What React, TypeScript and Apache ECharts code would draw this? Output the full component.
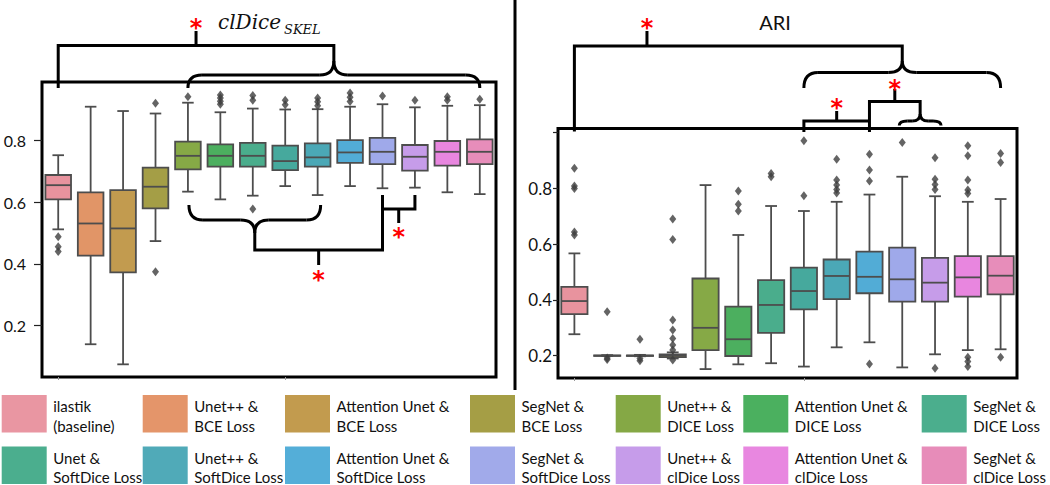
import React, { useEffect, useRef } from "react";
import * as echarts from "echarts";

// ---------- DATA ----------
const categories = [
  "ilastik (baseline)",
  "Unet++ & BCE Loss",
  "Attention Unet & BCE Loss",
  "SegNet & BCE Loss",
  "Unet++ & DICE Loss",
  "Attention Unet & DICE Loss",
  "SegNet & DICE Loss",
  "Unet & SoftDice Loss",
  "Unet++ & SoftDice Loss",
  "Attention Unet & SoftDice Loss",
  "SegNet & SoftDice Loss",
  "Unet++ & clDice Loss",
  "Attention Unet & clDice Loss",
  "SegNet & clDice Loss",
];

const legendLabels = [
  "ilastik\n(baseline)",
  "Unet++ &\nBCE Loss",
  "Attention Unet &\nBCE Loss",
  "SegNet &\nBCE Loss",
  "Unet++ &\nDICE Loss",
  "Attention Unet &\nDICE Loss",
  "SegNet &\nDICE Loss",
  "Unet &\nSoftDice Loss",
  "Unet++ &\nSoftDice Loss",
  "Attention Unet &\nSoftDice Loss",
  "SegNet &\nSoftDice Loss",
  "Unet++ &\nclDice Loss",
  "Attention Unet &\nclDice Loss",
  "SegNet &\nclDice Loss",
];

const boxColors = [
  "#E8939E", "#E19567", "#C29B4F", "#A49E46", "#86A946", "#4CAF5F", "#4AAD8C",
  "#46A99D", "#4BA8B6", "#52ACD6", "#9FA9EA", "#C69CE9", "#E886DF", "#E78DBA",
];
const legendSwatchColors = [
  "#E996A2", "#E4956A", "#C29B4E", "#A59E45", "#85A845", "#4BB05F", "#4BAE8D",
  "#4BAE8E", "#50AAB8", "#54AED8", "#A1AAEA", "#C69CEA", "#E887E0", "#E78CB9",
];

const clDiceTitle = "clDice";
const clDiceSub = "SKEL";
const ariTitle = "ARI";

const clDiceTicks = [0.2, 0.4, 0.6, 0.8];
const ariTickLabels = [0.2, 0.4, 0.6, 0.8];
const ariTickMarks = [0.2, 0.4, 0.6, 0.8, 1.0];

// [lower whisker, Q1, median, Q3, upper whisker]
const clDiceStats = [
  [0.512, 0.609, 0.655, 0.688, 0.752],
  [0.14, 0.427, 0.531, 0.632, 0.909],
  [0.075, 0.373, 0.515, 0.639, 0.895],
  [0.474, 0.58, 0.65, 0.712, 0.887],
  [0.634, 0.706, 0.75, 0.796, 0.922],
  [0.609, 0.715, 0.75, 0.787, 0.891],
  [0.621, 0.715, 0.75, 0.792, 0.903],
  [0.652, 0.704, 0.733, 0.783, 0.9],
  [0.623, 0.715, 0.745, 0.79, 0.901],
  [0.652, 0.727, 0.761, 0.801, 0.909],
  [0.645, 0.723, 0.763, 0.808, 0.917],
  [0.647, 0.702, 0.747, 0.785, 0.907],
  [0.632, 0.718, 0.763, 0.798, 0.912],
  [0.626, 0.723, 0.763, 0.803, 0.914],
];
const clDiceOutliers = [
  [0, 0.488], [0, 0.456], [0, 0.44],
  [3, 0.92], [3, 0.375],
  [4, 0.941],
  [5, 0.947], [5, 0.937], [5, 0.927], [5, 0.917],
  [6, 0.945], [6, 0.93], [6, 0.578],
  [7, 0.93], [7, 0.915],
  [8, 0.937], [8, 0.925], [8, 0.912],
  [9, 0.953], [9, 0.94], [9, 0.926],
  [10, 0.944],
  [11, 0.93],
  [12, 0.941], [12, 0.93],
  [13, 0.933],
];

const ariStats = [
  [0.277, 0.349, 0.396, 0.447, 0.567],
  [0.199, 0.2, 0.2, 0.201, 0.202],
  [0.198, 0.199, 0.2, 0.201, 0.203],
  [0.19, 0.195, 0.2, 0.205, 0.212],
  [0.152, 0.22, 0.3, 0.477, 0.812],
  [0.169, 0.199, 0.259, 0.376, 0.633],
  [0.173, 0.282, 0.382, 0.471, 0.737],
  [0.161, 0.366, 0.432, 0.516, 0.719],
  [0.23, 0.403, 0.486, 0.545, 0.752],
  [0.248, 0.424, 0.483, 0.573, 0.778],
  [0.158, 0.394, 0.474, 0.588, 0.842],
  [0.205, 0.394, 0.462, 0.551, 0.772],
  [0.22, 0.412, 0.481, 0.557, 0.752],
  [0.223, 0.42, 0.487, 0.557, 0.762],
];
const ariOutliers = [
  [0, 0.872], [0, 0.809], [0, 0.8], [0, 0.644], [0, 0.633],
  [1, 0.358], [1, 0.192], [1, 0.186],
  [2, 0.259], [2, 0.19], [2, 0.182],
  [3, 0.69], [3, 0.617], [3, 0.328], [3, 0.292], [3, 0.262], [3, 0.238], [3, 0.22], [3, 0.185],
  [5, 0.791], [5, 0.743], [5, 0.719],
  [6, 0.854], [6, 0.842],
  [7, 0.971], [7, 0.774],
  [8, 0.905], [8, 0.83], [8, 0.812], [8, 0.796], [8, 0.784],
  [9, 0.923], [9, 0.866], [9, 0.827], [9, 0.17],
  [10, 0.965],
  [11, 0.91], [11, 0.833], [11, 0.814], [11, 0.796], [11, 0.155],
  [12, 0.953], [12, 0.917], [12, 0.83], [12, 0.794], [12, 0.782], [12, 0.194], [12, 0.179], [12, 0.161],
  [13, 0.925], [13, 0.893], [13, 0.194],
];

// ---------- LAYOUT ----------
const W = 1050;
const H = 485;
const EDGE = "#4d4d4d";
const legendColX = [1.7, 142.7, 285, 470, 615.7, 743.3, 921.7];
const legendRowY = [395, 446.5];

function boxSeries(stats: number[][], gi: number, frac: number) {
  return {
    type: "custom",
    xAxisIndex: gi,
    yAxisIndex: gi,
    data: stats.map((s, i) => [i, ...s]),
    encode: { x: 0, y: [1, 2, 3, 4, 5] },
    renderItem: (_params: any, api: any) => {
      const idx = api.value(0);
      const low = api.coord([idx, api.value(1)]);
      const q1 = api.coord([idx, api.value(2)]);
      const med = api.coord([idx, api.value(3)]);
      const q3 = api.coord([idx, api.value(4)]);
      const high = api.coord([idx, api.value(5)]);
      const band = api.size([1, 0])[0];
      const bw = band * frac;
      const cw = bw * 0.45;
      const cx = low[0];
      const ls = { stroke: EDGE, lineWidth: 1.8 };
      return {
        type: "group",
        children: [
          { type: "line", shape: { x1: cx, y1: high[1], x2: cx, y2: q3[1] }, style: ls },
          { type: "line", shape: { x1: cx, y1: q1[1], x2: cx, y2: low[1] }, style: ls },
          { type: "line", shape: { x1: cx - cw / 2, y1: high[1], x2: cx + cw / 2, y2: high[1] }, style: ls },
          { type: "line", shape: { x1: cx - cw / 2, y1: low[1], x2: cx + cw / 2, y2: low[1] }, style: ls },
          {
            type: "rect",
            shape: { x: cx - bw / 2, y: q3[1], width: bw, height: Math.max(q1[1] - q3[1], 0.5) },
            style: { fill: boxColors[idx], stroke: EDGE, lineWidth: 1.8 },
          },
          { type: "line", shape: { x1: cx - bw / 2, y1: med[1], x2: cx + bw / 2, y2: med[1] }, style: ls },
        ],
      };
    },
    z: 2,
  };
}

function outlierSeries(data: number[][], gi: number) {
  return {
    type: "scatter",
    xAxisIndex: gi,
    yAxisIndex: gi,
    data,
    symbol: "diamond",
    symbolSize: [7, 9],
    itemStyle: { color: "#3d3d3d" },
    z: 3,
  };
}

export default function App() {
  const ref = useRef<HTMLDivElement>(null);
  useEffect(() => {
    const el = ref.current!;
    const chart = echarts.init(el, undefined, { renderer: "svg", width: W, height: H });
    const xAx = (gi: number) => ({
      gridIndex: gi,
      type: "category",
      data: categories,
      axisLabel: { show: false },
      axisLine: { show: false },
      axisTick: { show: true, alignWithLabel: true, length: 3, lineStyle: { color: "#999" } },
      splitLine: { show: false },
    });
    chart.setOption({
      animation: false,
      backgroundColor: "#fff",
      grid: [
        { left: 42, top: 82, width: 454, height: 295, show: true, borderColor: "#000", borderWidth: 3, backgroundColor: "transparent" },
        { left: 558, top: 128.5, width: 459, height: 249.5, show: true, borderColor: "#000", borderWidth: 3, backgroundColor: "transparent" },
      ],
      xAxis: [xAx(0), xAx(1)],
      yAxis: [
        {
          gridIndex: 0,
          type: "value",
          min: 0.034,
          max: 0.989,
          splitLine: { show: false },
          axisLine: { show: false },
          axisTick: { show: true, length: 8, customValues: clDiceTicks, lineStyle: { color: "#222", width: 1.2 } },
          axisLabel: {
            customValues: clDiceTicks,
            formatter: (v: number) => v.toFixed(1),
            margin: 16,
            fontSize: 16,
            fontFamily: "Lato",
            color: "#111",
          },
        },
        {
          gridIndex: 1,
          type: "value",
          min: 0.12,
          max: 1.015,
          splitLine: { show: false },
          axisLine: { show: false },
          axisTick: { show: true, length: 5, customValues: ariTickMarks, lineStyle: { color: "#222", width: 1.2 } },
          axisLabel: {
            customValues: ariTickLabels,
            formatter: (v: number) => v.toFixed(1),
            margin: 6,
            fontSize: 17,
            fontFamily: "Lato",
            color: "#111",
          },
        },
      ],
      series: [
        boxSeries(clDiceStats, 0, 0.79),
        outlierSeries(clDiceOutliers, 0),
        boxSeries(ariStats, 1, 0.8),
        outlierSeries(ariOutliers, 1),
      ],
    });

    const L = (i: number) => (chart.convertToPixel({ gridIndex: 0 } as any, [i, 0.5]) as number[])[0];
    const R = (i: number) => (chart.convertToPixel({ gridIndex: 1 } as any, [i, 0.5]) as number[])[0];

    const LW = 3;
    const line = (x1: number, y1: number, x2: number, y2: number, lw = LW) => ({
      type: "line", z: 100, shape: { x1, y1, x2, y2 }, style: { stroke: "#000", lineWidth: lw },
    });
    const poly = (pts: number[][]) => ({
      type: "polyline", z: 100, shape: { points: pts }, style: { stroke: "#000", lineWidth: LW, fill: null, lineJoin: "miter" },
    });
    const quad = (x1: number, y1: number, cx: number, cy: number, x2: number, y2: number) => ({
      type: "bezierCurve", z: 100, shape: { x1, y1, cpx1: cx, cpy1: cy, x2, y2 }, style: { stroke: "#000", lineWidth: LW, fill: null },
    });
    const brace = (xa: number, xb: number, yLine: number, yEnd: number, yTip: number, r: number) => {
      const xm = (xa + xb) / 2;
      return [
        quad(xa, yEnd, xa, yLine, xa + r, yLine),
        line(xa + r, yLine, xm - r, yLine),
        quad(xm - r, yLine, xm, yLine, xm, yTip),
        quad(xm, yTip, xm, yLine, xm + r, yLine),
        line(xm + r, yLine, xb - r, yLine),
        quad(xb - r, yLine, xb, yLine, xb, yEnd),
      ];
    };
    const star = (x: number, y: number) => ({
      type: "text", z: 101, x, y: y + 5,
      style: { text: "*", fill: "#ff0000", fontSize: 24, fontWeight: "bold", fontFamily: "DejaVu Sans", align: "center", verticalAlign: "middle" },
    });

    const g: any[] = [];
    // left top
    const xmTop = (L(4) + L(13)) / 2;
    const tTop = (L(0) + xmTop) / 2;
    g.push(poly([[L(0), 88], [L(0), 45.5], [xmTop, 45.5], [xmTop, 61]]));
    g.push(line(tTop, 45.5, tTop, 31));
    g.push(star(tTop, 22.5));
    g.push(...brace(L(4), L(13), 75, 88, 61, 14));
    // left bottom
    const xa = L(4) + 1, xb = L(8) + 3;
    const xmB = (xa + xb) / 2;
    g.push(...brace(xa, xb, 220, 205, 233, 14));
    g.push(poly([[xmB, 233], [xmB, 250], [L(10), 250], [L(10), 195]]));
    const tB = (xmB + L(10)) / 2;
    g.push(line(tB, 250, tB, 265));
    g.push(star(tB, 275));
    g.push(poly([[L(10), 209], [L(11), 209], [L(11), 195]]));
    const tC = (L(10) + L(11)) / 2;
    g.push(line(tC, 209, tC, 223));
    g.push(star(tC, 232));
    // right top
    const xmR = (R(7) + R(13)) / 2;
    const tR = R(2) + 7;
    g.push(poly([[R(0), 131.5], [R(0), 46], [xmR, 46], [xmR, 61]]));
    g.push(line(tR, 46, tR, 31));
    g.push(star(tR, 23));
    g.push(...brace(R(7), R(13), 72.5, 88, 61, 14));
    // right small brackets
    const t1 = (R(7) + R(9)) / 2;
    g.push(poly([[R(7), 132], [R(7), 121], [R(9), 121]]));
    g.push(line(t1, 121, t1, 111));
    g.push(star(t1, 103));
    const sa = R(10) - 3, sb = R(11) + 6;
    const sm = (sa + sb) / 2;
    g.push(poly([[R(9), 132], [R(9), 101.5], [sm, 101.5], [sm, 114]]));
    const t2 = (R(9) + sm) / 2;
    g.push(line(t2, 101.5, t2, 89));
    g.push(star(t2, 83.5));
    g.push(...brace(sa, sb, 121, 125.5, 114, 8));
    // separator
    g.push(line(515, 0, 515, 390, 3));
    // titles
    g.push({ type: "text", z: 101, x: 218, y: 22, style: { text: clDiceTitle, fontSize: 20, fontStyle: "italic", fontFamily: "DejaVu Serif", fill: "#111", align: "left", verticalAlign: "middle" } });
    g.push({ type: "text", z: 101, x: 284, y: 29, style: { text: clDiceSub, fontSize: 13, fontStyle: "italic", fontFamily: "DejaVu Serif", fill: "#111", align: "left", verticalAlign: "middle" } });
    g.push({ type: "text", z: 101, x: 775, y: 21.5, style: { text: ariTitle, fontSize: 20, fontFamily: "Lato", fill: "#111", align: "center", verticalAlign: "middle" } });
    // legend
    legendLabels.forEach((lab, i) => {
      const row = Math.floor(i / 7);
      const col = i % 7;
      const x = legendColX[col];
      const y = legendRowY[row];
      g.push({ type: "rect", z: 101, shape: { x, y, width: 45, height: 37.5 }, style: { fill: legendSwatchColors[i], stroke: null } });
      g.push({
        type: "text", z: 101, x: x + 51.5, y: y + 1.5,
        style: { text: lab, fontSize: 15, fontFamily: "Lato", fill: "#111", lineHeight: 19.5, align: "left", verticalAlign: "top" },
      });
    });

    chart.setOption({ graphic: g });
    return () => chart.dispose();
  }, []);
  return <div ref={ref} style={{ position: "absolute", left: 0, top: 0, width: W, height: H, background: "#fff" }} />;
}
